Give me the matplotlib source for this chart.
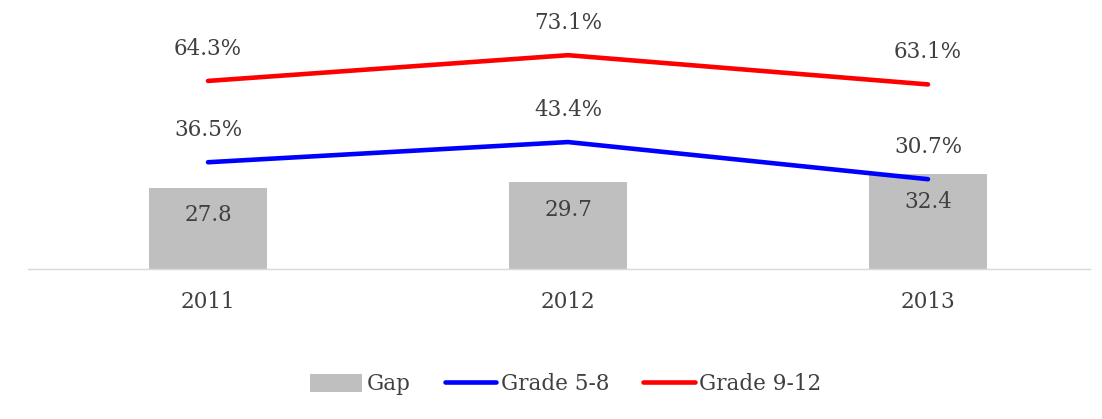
import matplotlib
matplotlib.use("Agg")
import matplotlib.pyplot as plt
from matplotlib.lines import Line2D
from matplotlib.patches import Patch

years = ["2011", "2012", "2013"]
gap = [27.8, 29.7, 32.4]
grade_5_8 = [36.5, 43.4, 30.7]
grade_9_12 = [64.3, 73.1, 63.1]

plt.rcParams['font.family'] = ['DejaVu Serif']
txt = '#404040'
fs = 15.5

fig = plt.figure(figsize=(11.02, 4.19), dpi=100)
ax = fig.add_axes([28/1102, 150/419, (1090-28)/1102, 234/419])
x = list(range(len(years)))
ax.bar(x, gap, width=0.33, color='#BFBFBF', zorder=1)
ax.plot(x, grade_5_8, color='#0000FF', lw=3.3, solid_capstyle='round', zorder=2)
ax.plot(x, grade_9_12, color='#FF0000', lw=3.3, solid_capstyle='round', zorder=2)

for xi, v in zip(x, gap):
    ax.annotate(f"{v}", (xi, v), xytext=(0, -20), textcoords='offset points',
                ha='center', va='center', fontsize=fs, color=txt)
for xi, v in zip(x, grade_5_8):
    ax.annotate(f"{v}%", (xi, v), xytext=(0, 23), textcoords='offset points',
                ha='center', va='center', fontsize=fs, color=txt, annotation_clip=False)
for xi, v in zip(x, grade_9_12):
    ax.annotate(f"{v}%", (xi, v), xytext=(0, 23), textcoords='offset points',
                ha='center', va='center', fontsize=fs, color=txt, annotation_clip=False)

ax.set_xlim(-0.5, 2.45)
ax.set_ylim(0, 80)
ax.set_xticks(x)
ax.set_xticklabels(years, fontsize=fs, color=txt)
ax.tick_params(axis='x', length=0, pad=16)
ax.set_yticks([])
for s in ['top', 'right', 'left']:
    ax.spines[s].set_visible(False)
ax.spines['bottom'].set_color('#D9D9D9')
ax.spines['bottom'].set_linewidth(1)

handles = [Patch(facecolor='#BFBFBF', edgecolor='none'),
           Line2D([], [], color='#0000FF', lw=3.3, solid_capstyle='round'),
           Line2D([], [], color='#FF0000', lw=3.3, solid_capstyle='round')]
fig.legend(handles, ['Gap', 'Grade 5-8', 'Grade 9-12'], loc='center',
           bbox_to_anchor=(566/1102, 1 - 384/419), ncol=3, frameon=False,
           fontsize=fs, labelcolor=txt, handlelength=2.4, handletextpad=0.2,
           columnspacing=1.6, handleheight=0.9)

fig.savefig('out.png', dpi=100)
